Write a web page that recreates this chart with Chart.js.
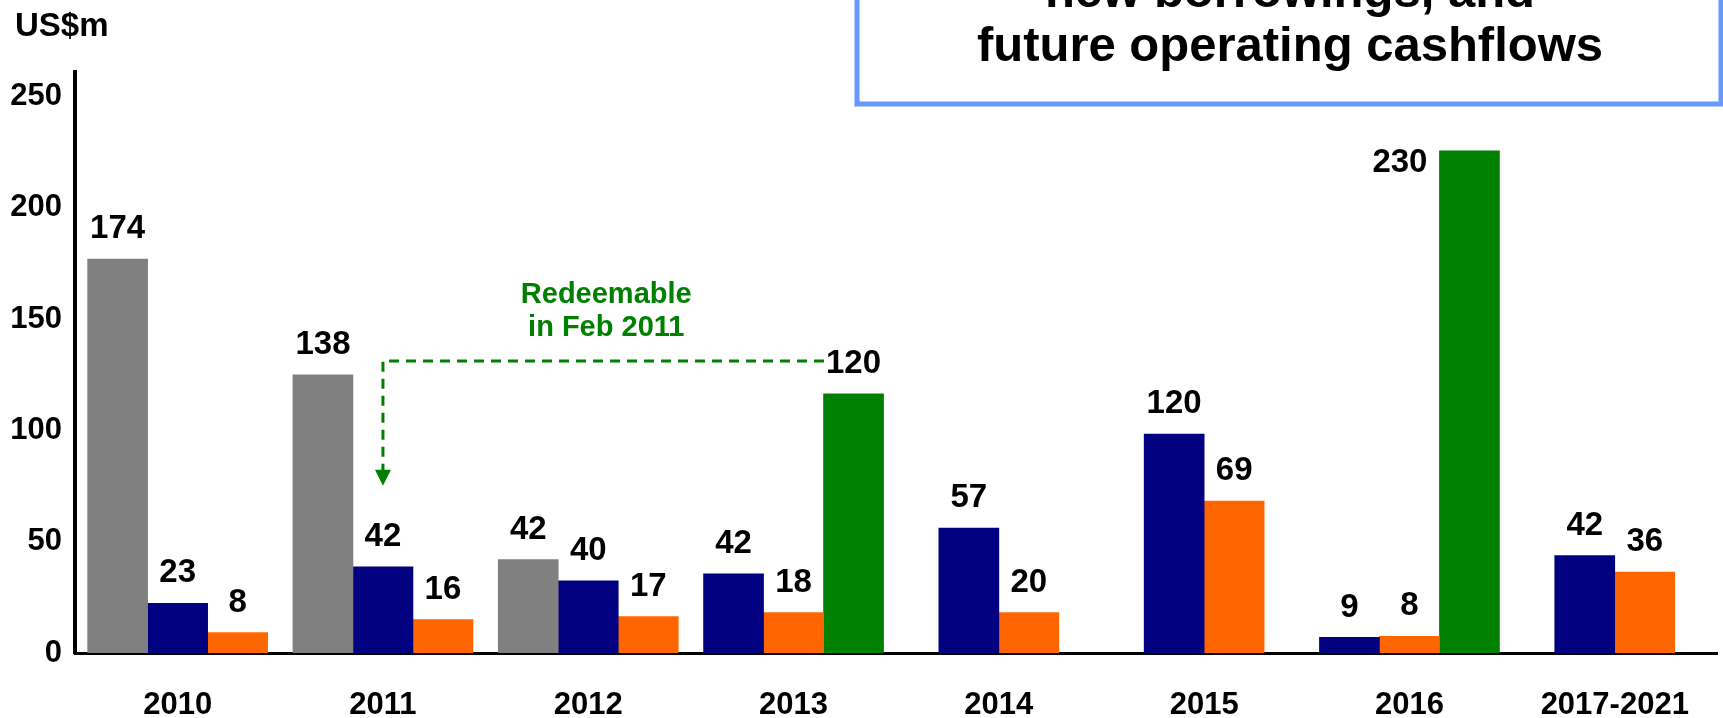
<!DOCTYPE html>
<html>
<head>
<meta charset="utf-8">
<title>Debt maturity profile</title>
<script src="https://cdn.jsdelivr.net/npm/chart.js@4.4.1/dist/chart.umd.min.js"></script>
<style>
  html, body { margin: 0; padding: 0; background: #fff; }
  #chartWrap { width: 1723px; height: 718px; }
</style>
</head>
<body>
<div id="chartWrap">
  <canvas id="maturityChart" width="1723" height="718"></canvas>
</div>
<script>
const categories = ["2010", "2011", "2012", "2013", "2014", "2015", "2016", "2017-2021"];

// bar heights as drawn on the slide (US$m)
const greyValues = [177, 125, 42, null, null, null, null, null];
const navyValues = [22.3, 38.7, 32.4, 35.6, 56.1, 98.3, 7.0, 43.8];
const orangeValues = [9.2, 15.0, 16.4, 18.2, 18.2, 68.2, 7.5, 36.3];
const greenValues = [null, null, null, 116.4, null, null, 225.6, null];

// numbers printed above the bars
const greyLabels = ["174", "138", "42", null, null, null, null, null];
const navyLabels = ["23", "42", "40", "42", "57", "120", "9", "42"];
const orangeLabels = ["8", "16", "17", "18", "20", "69", "8", "36"];
const greenLabels = [null, null, null, "120", null, null, "230", null];

const yTicks = [0, 50, 100, 150, 200, 250];

const FONT = '"Liberation Sans", Arial, Helvetica, sans-serif';
Chart.defaults.font.family = FONT;

// value labels, the "Redeemable" arrow and the title box
const overlay = {
  id: "overlay",
  afterDatasetsDraw(chart) {
    const ctx = chart.ctx;
    const area = chart.chartArea;
    ctx.save();

    // labels above bars
    ctx.fillStyle = "#000";
    ctx.font = "bold 33px " + FONT;
    ctx.textBaseline = "middle";
    chart.data.datasets.forEach((ds, d) => {
      const meta = chart.getDatasetMeta(d);
      meta.data.forEach((bar, i) => {
        const text = ds.valueLabels[i];
        if (text == null) return;
        if (bar.y - area.top < 100) {
          // no room above: put it beside the bar top
          ctx.textAlign = "right";
          ctx.fillText(text, bar.x - bar.width / 2 - 12, bar.y + 12);
        } else {
          ctx.textAlign = "center";
          ctx.fillText(text, bar.x, bar.y - 30);
        }
      });
    });

    // dashed arrow from 2013 green bar back to 2011
    const from = chart.getDatasetMeta(1).data[1];
    const to = chart.getDatasetMeta(3).data[3];
    const lineY = to.y - 33;
    const labelHalf = ctx.measureText(greenLabels[3]).width / 2;
    const tipY = from.y - 81;
    ctx.strokeStyle = "#008000";
    ctx.fillStyle = "#008000";
    ctx.lineWidth = 3;
    ctx.setLineDash([10, 7]);
    ctx.beginPath();
    ctx.moveTo(to.x - labelHalf - 2, lineY);
    ctx.lineTo(from.x, lineY);
    ctx.lineTo(from.x, tipY - 15);
    ctx.stroke();
    ctx.setLineDash([]);
    ctx.beginPath();
    ctx.moveTo(from.x - 8, tipY - 16);
    ctx.lineTo(from.x + 8, tipY - 16);
    ctx.lineTo(from.x, tipY);
    ctx.closePath();
    ctx.fill();

    ctx.font = "bold 29px " + FONT;
    ctx.textAlign = "center";
    const noteX = (from.x + to.x) / 2 - 12;
    ctx.fillText("Redeemable", noteX, lineY - 66);
    ctx.fillText("in Feb 2011", noteX, lineY - 33);

    // unit
    ctx.fillStyle = "#000";
    ctx.font = "bold 33px " + FONT;
    ctx.textAlign = "left";
    ctx.textBaseline = "alphabetic";
    ctx.fillText("US$m", 15, 36);

    // title box, cut off by the top of the slide
    ctx.fillStyle = "#fff";
    ctx.fillRect(857, -10, 864, 114);
    ctx.strokeStyle = "#6699ff";
    ctx.lineWidth = 5;
    ctx.strokeRect(857, -10, 864, 114);
    ctx.fillStyle = "#000";
    ctx.font = "bold 49px " + FONT;
    ctx.textAlign = "center";
    ctx.fillText("new borrowings, and", 1290, 7);
    ctx.fillText("future operating cashflows", 1290, 61);

    ctx.restore();
  }
};

const tickFont = { size: 31, weight: "bold" };

new Chart(document.getElementById("maturityChart").getContext("2d"), {
  type: "bar",
  data: {
    labels: categories,
    datasets: [
      { data: greyValues, valueLabels: greyLabels, backgroundColor: "#808080" },
      { data: navyValues, valueLabels: navyLabels, backgroundColor: "#000080" },
      { data: orangeValues, valueLabels: orangeLabels, backgroundColor: "#ff6600" },
      { data: greenValues, valueLabels: greenLabels, backgroundColor: "#008000" },
    ],
  },
  options: {
    responsive: false,
    animation: false,
    devicePixelRatio: 1,
    layout: { padding: { top: 72, right: 2, bottom: 0, left: 0 } },
    plugins: { legend: { display: false }, tooltip: { enabled: false } },
    datasets: { bar: { barThickness: 60, skipNull: true, borderWidth: 0 } },
    scales: {
      x: {
        grid: { display: false, drawTicks: false },
        border: { color: "#000", width: 3 },
        ticks: { font: tickFont, color: "#000", padding: 34 },
        afterFit: (s) => { s.height = 65; },
      },
      y: {
        min: 0,
        max: 261,
        afterBuildTicks: (s) => { s.ticks = yTicks.map((v) => ({ value: v })); },
        grid: { display: false, drawTicks: false },
        border: { color: "#000", width: 4 },
        ticks: { font: tickFont, color: "#000", padding: 13 },
        afterFit: (s) => { s.width = 75; },
      },
    },
  },
  plugins: [overlay],
});
</script>
</body>
</html>
